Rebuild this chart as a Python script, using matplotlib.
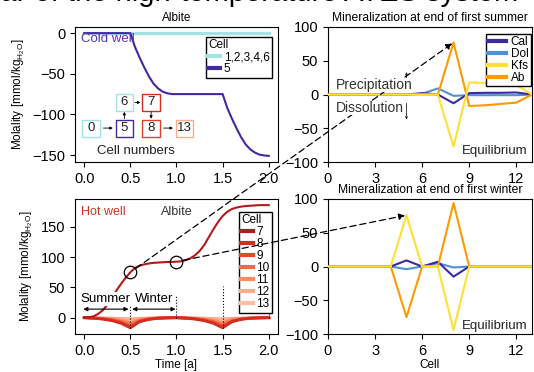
import matplotlib
matplotlib.use("Agg")
import matplotlib.pyplot as plt
from matplotlib.patches import Rectangle, ConnectionPatch

plt.rcParams['font.family'] = ['Liberation Sans', 'DejaVu Sans']
plt.rcParams['font.size'] = 10.5

# ---- time series (years) ----
time = [0.00, 0.05, 0.10, 0.15, 0.20, 0.25, 0.30, 0.35, 0.40, 0.45, 0.50,
        0.55, 0.60, 0.65, 0.70, 0.75, 0.80, 0.85, 0.90, 0.95, 1.00,
        1.05, 1.10, 1.15, 1.20, 1.25, 1.30, 1.35, 1.40, 1.45, 1.50,
        1.55, 1.60, 1.65, 1.70, 1.75, 1.80, 1.85, 1.90, 1.95, 2.00]

# cold well, albite molality
cold_other_t = [0.0, 2.0]
cold_other = [0.0, 0.0]
cold_cell5 = [0, 0, 0, 0, 0, 0, 0, 0, 0, 0, 0,
              -17, -30, -42, -53, -62, -68, -72, -74, -75, -75,
              -75, -75, -75, -75, -75, -75, -75, -75, -75, -75,
              -92, -105, -117, -128, -137, -143, -147, -149.5, -150.5, -151]

# hot well, albite molality
hot_cell7 = [0, 0.5, 2, 6, 12, 21, 33, 45, 56, 66, 75,
             82, 86, 88, 89.5, 90.5, 91, 91.5, 92, 92, 92.5,
             93, 95, 98, 103, 110, 120, 133, 146, 158, 168,
             175, 179.5, 182, 183.5, 184.5, 185, 185.5, 186, 186, 186]

time_c = [0.0, 0.1, 0.2, 0.3, 0.4, 0.5, 0.6, 0.7, 0.8, 0.9, 1.0,
          1.1, 1.2, 1.3, 1.4, 1.5, 1.6, 1.7, 1.8, 1.9, 2.0]
hot_cell8 = [0, -1, -2.5, -5, -9.5, -17, -7, -3, -1.2, -0.4, 0,
             -1, -2.5, -5, -9.5, -17, -7, -3, -1.2, -0.4, 0]
hot_cell9 = [0, -0.8, -2, -4.3, -8, -15, -6, -2.6, -1, -0.3, 0,
             -0.8, -2, -4.3, -8, -15, -6, -2.6, -1, -0.3, 0]
hot_cell10 = [0, -0.7, -1.7, -3.5, -6.5, -12, -5, -2, -0.8, -0.3, 0,
              -0.7, -1.7, -3.5, -6.5, -12, -5, -2, -0.8, -0.3, 0]
hot_cell11 = [0, -0.5, -1.2, -2.4, -4.5, -8, -3.3, -1.4, -0.5, -0.2, 0,
              -0.5, -1.2, -2.4, -4.5, -8, -3.3, -1.4, -0.5, -0.2, 0]
hot_cell12 = [0, -0.2, -0.4, -0.8, -1.5, -3, -1.2, -0.5, -0.2, -0.1, 0,
              -0.2, -0.4, -0.8, -1.5, -3, -1.2, -0.5, -0.2, -0.1, 0]
hot_cell13 = [0, 0, 0, 0, 0, 0, 0, 0, 0, 0, 0,
              0, 0, 0, 0, 0, 0, 0, 0, 0, 0]

# ---- mineralization per cell ----
cells = [0, 1, 2, 3, 4, 5, 6, 7, 8, 9, 10, 11, 12, 13]
summer_cal = [0, 0, 0, 0, 0, 0, 2, 0, -13, 2, 2.5, 2.5, 3, 0]
summer_dol = [0, 0, 0, 0, 0, 0, 1, 9, -2, -1, -1, -1, -1, 0]
summer_kfs = [0, 0, 0, 0, 0, 0, 0, 0, -77, 18, 17, 15, 14, 0]
summer_ab = [0, 0, 0, 0, 0, 0, 0, 0, 77, -17, -16, -14, -12, 0]

winter_cal = [0, 0, 0, 0, 0, 9, 0, 7, -15, 0, 0, 0, 0, 0]
winter_dol = [0, 0, 0, 0, 0, -4, 0, 5, -1.5, 0, 0, 0, 0, 0]
winter_kfs = [0, 0, 0, 0, 0, 76, 0, 0, -94, 0, 0, 0, 0, 0]
winter_ab = [0, 0, 0, 0, 0, -75, 0, 0, 94, 0, 0, 0, 0, 0]

c_cyan = "#a3e4e2"
c_purple = "#4527a0"
reds = ["#b5191c", "#d42c1e", "#e8452c", "#f26840", "#f88a64", "#fcab8f", "#fdc0a6"]
hot_labels = ["7", "8", "9", "10", "11", "12", "13"]
c_cal, c_dol, c_kfs, c_ab = "#3b2a9e", "#4f8fd6", "#ffe135", "#ff9a00"

fig = plt.figure(figsize=(5.34, 3.72), dpi=100)
W, H = 534.0, 372.0


def add_ax(l, t, r, b):
    return fig.add_axes([l / W, 1 - b / H, (r - l) / W, (b - t) / H])


ax_tl = add_ax(75, 27, 278, 162)
ax_tr = add_ax(328, 27, 532, 162)
ax_bl = add_ax(75, 199, 278, 334)
ax_br = add_ax(328, 199, 532, 334)

fig.text(0.97, 0.996, "Mineralization in the first year of the high-temperature ATES system",
         ha='right', va='baseline', fontsize=21)

ylab = "Molality [mmol/kg$_{\\mathregular{H_2O}}$]"
leg_kw = dict(borderaxespad=0, fontsize=8.5, title_fontsize=8.5, handlelength=1.0,
              handletextpad=0.3, labelspacing=0.0, borderpad=0.2,
              fancybox=False, edgecolor='k', framealpha=1)

# ---------- top left: cold well ----------
ax_tl.plot(cold_other_t, cold_other, color=c_cyan, lw=2.5, label="1,2,3,4,6")
ax_tl.plot(time, cold_cell5, color=c_purple, lw=1.5, label="5")
ax_tl.set_xticks([0, 0.5, 1.0, 1.5, 2.0])
ax_tl.set_yticks([0, -50, -100, -150])
ax_tl.set_title("Albite", fontsize=8.5, pad=4)
ax_tl.set_ylabel(ylab, fontsize=8.5)
ax_tl.text(-0.035, -7, "Cold well", color="#5535b0", fontsize=9.5, va='center')
leg = ax_tl.legend(title="Cell", loc='upper right', bbox_to_anchor=(0.97, 0.926), **leg_kw)
for h in leg.get_lines():
    h.set_linewidth(3)
leg._legend_box.align = "left"

# cell number sketch
boxes = [("0", 0.073, -116.8, c_cyan), ("5", 0.435, -116.8, c_purple),
         ("6", 0.435, -85.3, c_cyan), ("7", 0.725, -85.3, "#d42c1e"),
         ("8", 0.725, -116.8, "#e0402a"), ("13", 1.087, -116.8, "#fcab8f")]
bw, bh = 0.19, 21
for lab, bx, by, ec in boxes:
    ax_tl.add_patch(Rectangle((bx - bw / 2, by - bh / 2), bw, bh, fill=False, ec=ec, lw=1))
    ax_tl.text(bx, by, lab, ha='center', va='center', fontsize=9.5, color="#222")
small = dict(arrowstyle='-|>', lw=0.6, color='k', mutation_scale=4,
             shrinkA=0, shrinkB=0)
ax_tl.annotate('', xy=(0.435 - bw / 2 - 0.03, -116.8), xytext=(0.073 + bw / 2 + 0.04, -116.8), arrowprops=small)
ax_tl.annotate('', xy=(0.725 - bw / 2 - 0.02, -85.3), xytext=(0.435 + bw / 2 + 0.02, -85.3), arrowprops=small)
ax_tl.annotate('', xy=(1.087 - bw / 2 - 0.03, -116.8), xytext=(0.725 + bw / 2 + 0.04, -116.8), arrowprops=small)
ax_tl.annotate('', xy=(0.435, -85.3 - bh / 2 - 1), xytext=(0.435, -116.8 + bh / 2 + 1), arrowprops=small)
ax_tl.annotate('', xy=(0.725, -116.8 + bh / 2 + 1), xytext=(0.725, -85.3 - bh / 2 - 1), arrowprops=small)
ax_tl.text(0.565, -145, "Cell numbers", ha='center', va='center', fontsize=9.5, color="#222")

# ---------- bottom left: hot well ----------
hot_series = [hot_cell7, hot_cell8, hot_cell9, hot_cell10, hot_cell11, hot_cell12, hot_cell13]
for i in range(6, 0, -1):
    ax_bl.plot(time_c, hot_series[i], color=reds[i], lw=2, label=hot_labels[i])
ax_bl.plot(time, hot_cell7, color=reds[0], lw=1.5, label=hot_labels[0])
ax_bl.set_xticks([0, 0.5, 1.0, 1.5, 2.0])
ax_bl.set_yticks([0, 50, 100, 150])
ax_bl.set_xlabel("Time [a]", fontsize=8.5, labelpad=1)
ax_bl.set_ylabel(ylab, fontsize=8.5)
ax_bl.text(-0.035, 174, "Hot well", color="#cc3322", fontsize=9, va='center')
ax_bl.text(1.0, 174, "Albite", color="#333", fontsize=9, va='center', ha='center')

for tx, y0, y1 in [(0.5, -17, 36), (1.0, 0, 36), (1.5, -17, 53), (2.0, 0, 53)]:
    ax_bl.plot([tx, tx], [y0, y1], color='k', lw=0.8, ls=':')
dbl = dict(arrowstyle='<|-|>', lw=0.8, color='k', mutation_scale=6, shrinkA=0, shrinkB=0)
ax_bl.annotate('', xy=(-0.01, 14), xytext=(0.48, 14), arrowprops=dbl)
ax_bl.annotate('', xy=(0.52, 14), xytext=(0.99, 14), arrowprops=dbl)
ax_bl.text(0.23, 31, "Summer", ha='center', va='center', fontsize=9.5,
           bbox=dict(fc='white', ec='none', pad=0.5), zorder=5)
ax_bl.text(0.76, 31, "Winter", ha='center', va='center', fontsize=9.5,
           bbox=dict(fc='white', ec='none', pad=0.5), zorder=5)

ax_bl.plot([0.5, 1.0], [75, 92.5], ls='none', marker='o', ms=9, mfc='none',
           mec='k', mew=0.9, zorder=6)

handles, labels = ax_bl.get_legend_handles_labels()
order = [labels.index(l) for l in hot_labels]
leg2 = ax_bl.legend([handles[k] for k in order], [labels[k] for k in order],
                    title="Cell", loc='upper right', bbox_to_anchor=(0.97, 0.904), **leg_kw)
for h in leg2.get_lines():
    h.set_linewidth(3)
leg2._legend_box.align = "left"

# ---------- right panels ----------
for ax, cal, dol, kfs, ab, title in [
        (ax_tr, summer_cal, summer_dol, summer_kfs, summer_ab, "Mineralization at end of first summer"),
        (ax_br, winter_cal, winter_dol, winter_kfs, winter_ab, "Mineralization at end of first winter")]:
    ax.plot(cells, cal, color=c_cal, lw=1.5, label="Cal", zorder=3)
    ax.plot(cells, dol, color=c_dol, lw=1.5, label="Dol", zorder=2)
    ax.plot(cells, kfs, color=c_kfs, lw=1.5, label="Kfs", zorder=5)
    ax.plot(cells, ab, color=c_ab, lw=1.5, label="Ab", zorder=4)
    ax.set_xlim(0, 13)
    ax.set_ylim(-100, 100)
    ax.set_xticks([0, 3, 6, 9, 12])
    ax.set_yticks([-100, -50, 0, 50, 100])
    ax.set_title(title, fontsize=8.7, pad=4)
    ax.text(12.7, -83 if ax is ax_tr else -88, "Equilibrium", ha='right', va='center',
            fontsize=9.5, color="#222")

ax_br.set_xlabel("Cell", fontsize=8.5, labelpad=1)
leg3 = ax_tr.legend(loc='upper right', bbox_to_anchor=(0.995, 0.951), borderaxespad=0,
                    fontsize=8.5, handlelength=1.5, handletextpad=0.4, labelspacing=0.0,
                    borderpad=0.2, fancybox=False, edgecolor='k', framealpha=1)
for h in leg3.get_lines():
    h.set_linewidth(3)

# labels drawn above the figure-level connector
fig.text(0.5, 14, "Precipitation", fontsize=10, va='center', color="#333",
         transform=ax_tr.transData, bbox=dict(fc='white', ec='none', pad=0.3), zorder=11)
fig.text(0.5, -20, "Dissolution", fontsize=10, va='center', color="#333",
         transform=ax_tr.transData, bbox=dict(fc='white', ec='none', pad=0.3), zorder=11)
tiny = dict(arrowstyle='->', lw=0.5, color='k', mutation_scale=4, shrinkA=0, shrinkB=0)
ax_tr.annotate('', xy=(5.0, 33), xytext=(5.0, 9), arrowprops=tiny)
ax_tr.annotate('', xy=(5.0, -37), xytext=(5.0, -13), arrowprops=tiny)

# ---------- dashed connectors ----------
con1 = ConnectionPatch(xyA=(0.5, 75), coordsA=ax_bl.transData,
                       xyB=(8, 77), coordsB=ax_tr.transData,
                       arrowstyle='-|>', ls=(0, (5, 3)), lw=0.9, color='k',
                       mutation_scale=9, shrinkA=5, shrinkB=1, zorder=10)
con2 = ConnectionPatch(xyA=(1.0, 92.5), coordsA=ax_bl.transData,
                       xyB=(5, 76), coordsB=ax_br.transData,
                       arrowstyle='-|>', ls=(0, (5, 3)), lw=0.9, color='k',
                       mutation_scale=9, shrinkA=5, shrinkB=1, zorder=10)
fig.add_artist(con1)
fig.add_artist(con2)

fig.savefig("out.png", dpi=100)
